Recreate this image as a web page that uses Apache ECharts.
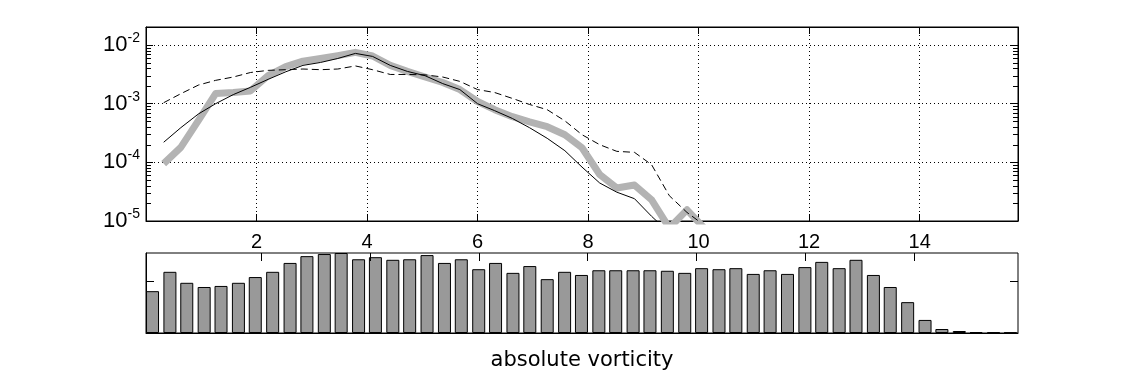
<!DOCTYPE html>
<html>
<head>
<meta charset="utf-8">
<script src="https://cdn.jsdelivr.net/npm/echarts@6/dist/echarts.min.js"></script>
<style>
  html, body { margin: 0; padding: 0; background: #fff; }
  #chart { width: 1125px; height: 375px; }
</style>
</head>
<body>
<div id="chart"></div>
<script>
// bin centres (absolute vorticity)
const binCenters = [0, 0.32, 0.63, 0.95, 1.26, 1.58, 1.89, 2.21, 2.53, 2.84,
  3.16, 3.47, 3.79, 4.10, 4.42, 4.73, 5.05, 5.37, 5.68, 6.00,
  6.31, 6.63, 6.94, 7.26, 7.58, 7.89, 8.21, 8.52, 8.84, 9.15,
  9.47, 9.79, 10.10, 10.42, 10.73, 11.05, 11.36, 11.68, 12.00, 12.31,
  12.63, 12.94, 13.26, 13.57, 13.89, 14.21, 14.52, 14.84, 15.15, 15.47, 15.78];

// pdf curves (top panel, log scale)
const greyPdf = [null, 9.5e-5, 1.8e-4, 5.2e-4, 1.49e-3, 1.55e-3, 1.65e-3, 3.0e-3, 4.3e-3, 5.3e-3,
  5.9e-3, 6.6e-3, 7.5e-3, 6.5e-3, 4.5e-3, 3.55e-3, 2.85e-3, 2.3e-3, 1.74e-3, 1.09e-3,
  7.9e-4, 6.0e-4, 4.9e-4, 4.05e-4, 2.96e-4, 1.77e-4, 6.2e-5, 3.65e-5, 4.1e-5, 2.3e-5,
  7.6e-6, 1.55e-5, 7.6e-6, null, null, null, null, null, null, null,
  null, null, null, null, null, null, null, null, null, null, null];

const solidPdf = [null, 2.2e-4, 3.9e-4, 6.7e-4, 1.0e-3, 1.43e-3, 1.9e-3, 2.6e-3, 3.5e-3, 4.5e-3,
  5.05e-3, 5.9e-3, 7.2e-3, 6.4e-3, 4.5e-3, 3.55e-3, 3.0e-3, 2.2e-3, 1.74e-3, 1.0e-3,
  7.6e-4, 5.6e-4, 3.9e-4, 2.57e-4, 1.58e-4, 8.3e-5, 4.45e-5, 3.1e-5, 2.4e-5, 1.2e-5,
  6.3e-6, null, null, null, null, null, null, null, null, null,
  null, null, null, null, null, null, null, null, null, null, null];

const dashedPdf = [null, 1.04e-3, 1.48e-3, 2.08e-3, 2.5e-3, 2.85e-3, 3.4e-3, 3.7e-3, 3.8e-3, 3.9e-3,
  3.8e-3, 3.9e-3, 4.4e-3, 3.8e-3, 3.15e-3, 3.15e-3, 3.1e-3, 2.85e-3, 2.4e-3, 1.74e-3,
  1.55e-3, 1.23e-3, 9.7e-4, 7.9e-4, 5.1e-4, 2.96e-4, 2.0e-4, 1.54e-4, 1.48e-4, 9.1e-5,
  2.7e-5, 1.4e-5, 8.5e-6, null, null, null, null, null, null, null,
  null, null, null, null, null, null, null, null, null, null, null];

// histogram (bottom panel)
const barCounts = [0.80, 1.17, 0.96, 0.88, 0.90, 0.96, 1.07, 1.17, 1.34, 1.47,
  1.51, 1.53, 1.41, 1.45, 1.40, 1.41, 1.49, 1.34, 1.41, 1.22,
  1.34, 1.15, 1.28, 1.03, 1.17, 1.11, 1.20, 1.20, 1.20, 1.20,
  1.19, 1.15, 1.24, 1.22, 1.24, 1.13, 1.20, 1.13, 1.26, 1.36,
  1.24, 1.40, 1.11, 0.88, 0.59, 0.25, 0.076, 0.038, 0.019, 0.013, 0.01];

const xTicks = [2, 4, 6, 8, 10, 12, 14];
const barYTicks = [1];
const xMax = 15.78;
const yMin = 1e-5;
const yMax = 0.0203;
const barXMin = -0.12;
const barXMax = 15.92;
const barYMax = 1.53;

const minorTicks = [];
[-5, -4, -3].forEach(function (e) {
  for (let m = 2; m <= 9; m++) minorTicks.push([0, m * Math.pow(10, e)]);
});

const font = 'Liberation Sans, Arial, Helvetica, sans-serif';
const black = '#000';
const pairs = (arr) => binCenters.map((x, i) => [x, arr[i]]);
const px = (v) => Math.round(v) + 0.5;

const chart = echarts.init(document.getElementById('chart'), null, { renderer: 'canvas' });

const tickIn = (len) => ({ show: true, inside: true, length: len, lineStyle: { color: black, width: 1 } });
const lineOn = { show: true, onZero: false, lineStyle: { color: black, width: 1 } };
const dotted = { show: true, lineStyle: { color: black, width: 1, type: [1, 3] } };
const seg = (x1, y1, x2, y2) => ({ type: 'line', shape: { x1: x1, y1: y1, x2: x2, y2: y2 }, style: { stroke: black, lineWidth: 1 } });

const option = {
  backgroundColor: '#fff',
  animation: false,
  textStyle: { fontFamily: font, color: black },
  grid: [
    { left: 146, top: 27, width: 872, height: 194, show: true, borderColor: black, borderWidth: 1 },
    { left: 146, top: 253, width: 872, height: 80, show: true, borderColor: black, borderWidth: 1 }
  ],
  xAxis: [
    {
      gridIndex: 0, type: 'value', min: 0, max: xMax, interval: 2, position: 'bottom',
      axisLine: lineOn, axisTick: tickIn(7),
      axisLabel: {
        fontSize: 20, color: black, margin: 11, fontFamily: font,
        formatter: (v) => (xTicks.indexOf(v) >= 0 ? String(v) : '')
      },
      splitLine: dotted
    },
    {
      gridIndex: 0, type: 'value', min: 0, max: xMax, interval: 2, position: 'top',
      axisLine: lineOn, axisTick: tickIn(7), axisLabel: { show: false }, splitLine: { show: false }
    },
    {
      gridIndex: 1, type: 'value', min: barXMin, max: barXMax, position: 'bottom',
      axisLine: lineOn, axisTick: { show: false },
      axisLabel: { show: false }, splitLine: { show: false },
      name: 'absolute vorticity', nameLocation: 'middle', nameGap: 17,
      nameTextStyle: { fontSize: 21, color: black, fontFamily: 'DejaVu Sans, sans-serif' }
    }
  ],
  yAxis: [
    {
      gridIndex: 0, type: 'log', logBase: 10, min: yMin, max: yMax, position: 'left',
      axisLine: lineOn, axisTick: tickIn(7),
      axisLabel: {
        margin: 6, color: black,
        formatter: function (v) {
          const e = Math.round(Math.log10(v));
          if (Math.abs(Math.log10(v) - e) > 1e-6) return '';
          return '{b|10}{s|' + e + '}';
        },
        rich: {
          b: { fontSize: 22, fontFamily: font, color: black },
          s: { fontSize: 14, fontFamily: font, color: black, padding: [0, 0, 14, 0] }
        }
      },
      splitLine: dotted
    },
    {
      gridIndex: 0, type: 'log', logBase: 10, min: yMin, max: yMax, position: 'right',
      axisLine: lineOn, axisTick: tickIn(7), axisLabel: { show: false }, splitLine: { show: false }
    },
    {
      gridIndex: 1, type: 'value', min: 0, max: barYMax, position: 'left',
      axisLine: lineOn, axisTick: { show: false }, axisLabel: { show: false }, splitLine: { show: false }
    }
  ],
  series: [
    {
      type: 'line', xAxisIndex: 0, yAxisIndex: 0, data: pairs(greyPdf),
      symbol: 'none', clip: true,
      lineStyle: { color: '#b3b3b3', width: 7, join: 'round' }, z: 2
    },
    {
      type: 'line', xAxisIndex: 0, yAxisIndex: 0, data: pairs(dashedPdf),
      symbol: 'none', clip: true,
      lineStyle: { color: black, width: 1, type: [7, 4] }, z: 3
    },
    {
      type: 'line', xAxisIndex: 0, yAxisIndex: 0, data: pairs(solidPdf),
      symbol: 'none', clip: true,
      lineStyle: { color: black, width: 1 }, z: 4
    },
    {
      // log minor ticks on both sides of the top panel
      type: 'custom', xAxisIndex: 0, yAxisIndex: 0, data: minorTicks, silent: true, z: 5,
      encode: { x: 0, y: 1 },
      renderItem: function (params, api) {
        const v = api.value(1);
        const l = api.coord([0, v]);
        const r = api.coord([xMax, v]);
        const y = px(l[1]);
        return { type: 'group', children: [seg(l[0], y, l[0] + 5, y), seg(r[0] - 5, y, r[0], y)] };
      }
    },
    {
      type: 'bar', xAxisIndex: 2, yAxisIndex: 2, data: pairs(barCounts),
      barWidth: 13, itemStyle: { color: '#999999', borderColor: black, borderWidth: 1 }, z: 2
    },
    {
      // x ticks hanging from the top edge of the bottom panel
      type: 'custom', xAxisIndex: 2, yAxisIndex: 2, data: xTicks.map((v) => [v, barYMax]),
      silent: true, z: 5, encode: { x: 0, y: 1 },
      renderItem: function (params, api) {
        const p = api.coord([api.value(0), barYMax]);
        const x = px(p[0]);
        return seg(x, p[1], x, p[1] + 8);
      }
    },
    {
      // y tick on both sides of the bottom panel
      type: 'custom', xAxisIndex: 2, yAxisIndex: 2, data: barYTicks.map((v) => [barXMin, v]),
      silent: true, z: 5, encode: { x: 0, y: 1 },
      renderItem: function (params, api) {
        const v = api.value(1);
        const l = api.coord([barXMin, v]);
        const r = api.coord([barXMax, v]);
        const y = px(l[1]);
        return { type: 'group', children: [seg(l[0], y, l[0] + 8, y), seg(r[0] - 8, y, r[0], y)] };
      }
    }
  ]
};

chart.setOption(option);
</script>
</body>
</html>
